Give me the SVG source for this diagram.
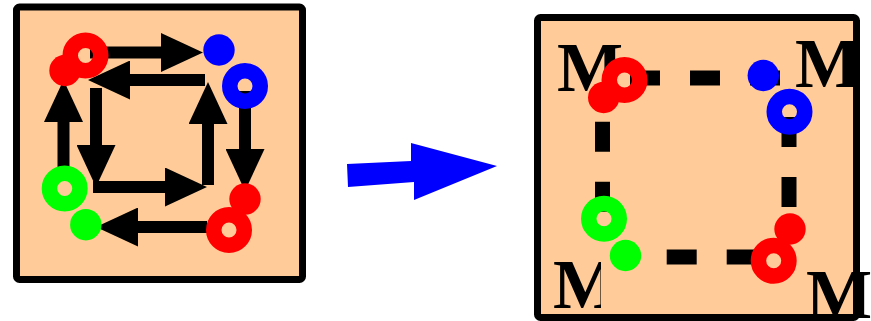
<svg xmlns="http://www.w3.org/2000/svg" width="871" height="321" viewBox="0 0 871 321">
<style>
.box{fill:#FFCC99;stroke:none}
.border{fill:none;stroke:#000;stroke-width:7}
.arrow{stroke:#000;stroke-width:12;fill:none;marker-end:url(#head)}
.dash{stroke:#000;stroke-width:15;fill:none;stroke-dasharray:30 30}
.rr{fill:none;stroke:#FF0000;stroke-width:15.5}
.br{fill:none;stroke:#0000FF;stroke-width:15.5}
.gr{fill:none;stroke:#00FF00;stroke-width:15.5}
.rd{fill:#FF0000}
.bd{fill:#0000FF}
.gd{fill:#00FF00}
.m{font-family:"Liberation Serif","Times New Roman",serif;font-weight:bold;font-size:70px;fill:#000}
</style>
<defs>
<marker id="head" markerUnits="userSpaceOnUse" markerWidth="42" markerHeight="39" viewBox="0 0 42 39" refX="2" refY="19.5" orient="auto">
<path d="M0,0 L42,19.5 L0,39 Z" fill="#000"/>
</marker>
<clipPath id="clipBL"><rect x="540" y="240" width="61" height="80"/></clipPath>
</defs>

<g id="left-panel">
<rect class="box" x="16.5" y="7" width="286" height="272.5" rx="3"/>
</g>

<g id="left-connectors">
<path class="arrow" d="M90,52.5 H163"/>
<path class="arrow" d="M205,80 H128"/>
<path class="arrow" d="M63.5,180 V120"/>
<path class="arrow" d="M96,88 V147"/>
<path class="arrow" d="M93,187 H167"/>
<path class="arrow" d="M208,185 V122"/>
<path class="arrow" d="M245,91 V151"/>
<path class="arrow" d="M207,227 H136"/>
</g>

<g id="left-nodes">
<g id="L-red-ring-tl"><circle class="rr" cx="85.5" cy="55.5" r="15.25"/></g>
<g id="L-red-dot-tl"><circle class="rd" cx="65" cy="70.5" r="15.7"/></g>
<g id="L-blue-dot"><circle class="bd" cx="219" cy="50" r="15.7"/></g>
<g id="L-blue-ring"><circle class="br" cx="245" cy="86" r="15.25"/></g>
<g id="L-red-dot-br"><circle class="rd" cx="245" cy="199" r="15.7"/></g>
<g id="L-red-ring-br"><circle class="rr" cx="229" cy="230" r="15.25"/></g>
<g id="L-green-ring"><circle class="gr" cx="64.7" cy="188.5" r="15.25"/></g>
<g id="L-green-dot"><circle class="gd" cx="85.8" cy="224.7" r="15.7"/></g>
</g>
<rect class="border" x="16.5" y="7" width="286" height="272.5" rx="3"/>

<g id="transition-arrow">
<polygon points="347,164 411,161 411,143 497,166 414,200 414,182 348,187" fill="#0000FF"/>
</g>

<g id="right-panel">
<rect class="box" x="537.5" y="17.5" width="319" height="300" rx="3"/>
<text class="m" x="557" y="91">M</text>
<text class="m" x="795" y="87">M</text>
<text class="m" x="553" y="308" clip-path="url(#clipBL)">M</text>
<text class="m" x="806" y="318">M</text>
</g>

<g id="right-connectors">
<path class="dash" d="M630,78 H780"/>
<path class="dash" d="M602.5,121.7 V211.7"/>
<path class="dash" d="M789,117 V207"/>
<path class="dash" d="M666.7,257 H756"/>
</g>

<g id="right-nodes">
<g id="R-red-ring-tl"><circle class="rr" cx="624.5" cy="80" r="15.25"/></g>
<g id="R-red-dot-tl"><circle class="rd" cx="603.7" cy="97.5" r="15.7"/></g>
<g id="R-blue-dot"><circle class="bd" cx="763.3" cy="75.5" r="15.7"/></g>
<g id="R-blue-ring"><circle class="br" cx="789.5" cy="111.7" r="15.25"/></g>
<g id="R-red-dot-br"><circle class="rd" cx="790" cy="229" r="15.7"/></g>
<g id="R-red-ring-br"><circle class="rr" cx="773.7" cy="260.8" r="15.25"/></g>
<g id="R-green-ring"><circle class="gr" cx="604" cy="218.8" r="15.25"/></g>
<g id="R-green-dot"><circle class="gd" cx="625.5" cy="255.5" r="15.7"/></g>
</g>
<rect class="border" x="537.5" y="17.5" width="319" height="300" rx="3"/>
</svg>
